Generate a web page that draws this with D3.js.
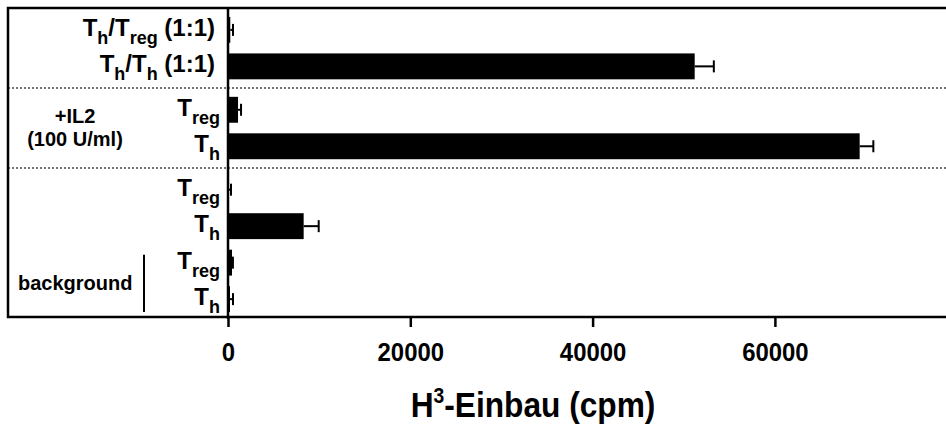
<!DOCTYPE html>
<html>
<head>
<meta charset="utf-8">
<script src="https://cdn.jsdelivr.net/npm/d3@7"></script>
<style>
  html, body { margin: 0; padding: 0; background: #fff; }
  svg { display: block; }
  text { font-family: Arial, "Liberation Sans", sans-serif; font-weight: bold; fill: #000; }
</style>
</head>
<body>
<svg id="chart" width="946" height="430"></svg>
<script>
// Categories, top to bottom. "_{...}" marks a subscript.
const categories = [
  "T_{h}/T_{reg} (1:1)",
  "T_{h}/T_{h} (1:1)",
  "T_{reg}",
  "T_{h}",
  "T_{reg}",
  "T_{h}",
  "T_{reg}",
  "T_{h}"
];
// Which block (separated by dotted lines) each bar belongs to
const groups = [0, 0, 1, 1, 2, 2, 2, 2];
// Mean H3 incorporation (cpm) and error (cpm)
const values = [250, 51200, 1100, 69300, 100, 8300, 440, 220];
const errors = [300, 2100, 330, 1500, 230, 1650, 100, 330];
const xTicks = [0, 20000, 40000, 60000];
const xMax = 80000;

const svg = d3.select("#chart");

const plotLeft = 8, plotTop = 8, axisX = 228, plotBottom = 317;
const x = d3.scaleLinear().domain([0, xMax]).range([axisX, axisX + xMax / 20000 * 182.3]);

// vertical slot position: index plus a small extra gap for every block boundary
const gapFrac = 0.19;
const slot = (i) => i + groups[i] * gapFrac;
const y = d3.scaleLinear().domain([-0.6, slot(categories.length - 1) + 0.49]).range([plotTop, plotBottom]);
const step = y(1) - y(0);
const barH = step * 0.71;

// Dotted separators between blocks
const seps = [];
for (let i = 1; i < categories.length; i++) {
  if (groups[i] !== groups[i - 1]) seps.push((slot(i) + slot(i - 1)) / 2);
}
svg.selectAll("line.sep").data(seps).join("line")
  .attr("class", "sep")
  .attr("x1", plotLeft).attr("x2", 946)
  .attr("y1", d => y(d)).attr("y2", d => y(d))
  .attr("stroke", "#444").attr("stroke-width", 1.5)
  .attr("stroke-dasharray", "2,2");

// Bars
svg.selectAll("rect.bar").data(values).join("rect")
  .attr("class", "bar")
  .attr("x", x(0))
  .attr("y", (d, i) => y(slot(i)) - barH / 2)
  .attr("width", d => x(d) - x(0))
  .attr("height", barH)
  .attr("fill", "#000");

// Error bars (positive side only)
const eb = svg.selectAll("g.err").data(values).join("g").attr("class", "err");
eb.append("line")
  .attr("x1", d => x(d))
  .attr("x2", (d, i) => x(d + errors[i]))
  .attr("y1", (d, i) => y(slot(i))).attr("y2", (d, i) => y(slot(i)))
  .attr("stroke", "#000").attr("stroke-width", 2);
eb.append("line")
  .attr("x1", (d, i) => x(d + errors[i]))
  .attr("x2", (d, i) => x(d + errors[i]))
  .attr("y1", (d, i) => y(slot(i)) - 6).attr("y2", (d, i) => y(slot(i)) + 6)
  .attr("stroke", "#000").attr("stroke-width", 2);

// Frame and y axis line
svg.append("path")
  .attr("d", `M${x(xMax)},${plotTop}H${plotLeft}V${plotBottom}H${x(xMax)}`)
  .attr("fill", "none").attr("stroke", "#000").attr("stroke-width", 2.5);
svg.append("line")
  .attr("x1", axisX).attr("x2", axisX).attr("y1", plotTop).attr("y2", plotBottom + 2)
  .attr("stroke", "#000").attr("stroke-width", 2.5);

// X axis
const xAxis = svg.append("g")
  .attr("transform", `translate(0,${plotBottom})`)
  .call(d3.axisBottom(x).tickValues(xTicks).tickSize(10).tickPadding(16).tickFormat(d3.format("d")));
xAxis.select(".domain").remove();
xAxis.selectAll(".tick line").attr("stroke", "#000").attr("stroke-width", 2.5);
xAxis.selectAll(".tick text")
  .attr("font-size", 26)
  .attr("font-weight", "bold")
  .attr("font-family", null)
  .attr("transform", "scale(0.92,1)");

// Axis title with superscript, slightly condensed
const title = svg.append("text")
  .attr("transform", "translate(533,417) scale(0.88,1)")
  .attr("text-anchor", "middle").attr("font-size", 36);
title.append("tspan").text("H");
title.append("tspan").attr("dy", -14).attr("font-size", 22).text("3");
title.append("tspan").attr("dy", 14).text("-Einbau (cpm)");

// Category labels with subscripts
function richLabel(sel, str, mainSize, subSize, subShift) {
  const parts = str.split(/(_\{[^}]*\})/).filter(s => s.length);
  let shifted = false;
  parts.forEach(p => {
    const isSub = p.startsWith("_{");
    const t = sel.append("tspan").text(isSub ? p.slice(2, -1) : p)
      .attr("font-size", isSub ? subSize : mainSize);
    if (isSub && !shifted) { t.attr("dy", subShift); shifted = true; }
    else if (!isSub && shifted) { t.attr("dy", -subShift); shifted = false; }
  });
}
categories.forEach((c, i) => {
  const t = svg.append("text")
    .attr("x", c.includes("(") ? 215 : 220).attr("y", y(slot(i)) + 6)
    .attr("text-anchor", "end");
  richLabel(t, c, 24, 18, 8);
});

// Block annotations
svg.append("text").attr("x", 75).attr("y", 123).attr("text-anchor", "middle")
  .attr("font-size", 20).text("+IL2");
svg.append("text").attr("x", 75).attr("y", 146).attr("text-anchor", "middle")
  .attr("font-size", 20).text("(100 U/ml)");
svg.append("text").attr("x", 18).attr("y", 290)
  .attr("font-size", 20).text("background");
svg.append("line")
  .attr("x1", 144).attr("x2", 144)
  .attr("y1", y(slot(6)) - barH / 2 + 5).attr("y2", plotBottom - 5)
  .attr("stroke", "#000").attr("stroke-width", 2);
</script>
</body>
</html>
